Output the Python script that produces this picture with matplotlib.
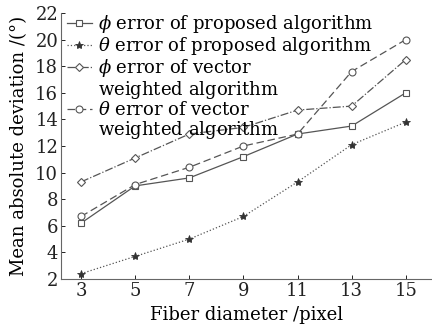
import matplotlib
matplotlib.use("Agg")
import matplotlib.pyplot as plt
from matplotlib.lines import Line2D

diameters = [3, 5, 7, 9, 11, 13, 15]
phi_proposed = [6.2, 9.0, 9.6, 11.2, 12.9, 13.5, 16.0]
theta_proposed = [2.4, 3.7, 5.0, 6.7, 9.3, 12.1, 13.8]
phi_vector = [9.3, 11.1, 12.9, 13.4, 14.7, 15.0, 18.5]
theta_vector = [6.7, 9.1, 10.4, 12.0, 12.9, 17.6, 20.0]

labels = [r"$\phi$ error of proposed algorithm",
          r"$\theta$ error of proposed algorithm",
          "$\\phi$ error of vector\nweighted algorithm",
          "$\\theta$ error of vector\nweighted algorithm"]
xticks = [3, 5, 7, 9, 11, 13, 15]
yticks = [2, 4, 6, 8, 10, 12, 14, 16, 18, 20, 22]

plt.rcParams['font.family'] = ['DejaVu Serif']
plt.rcParams['mathtext.fontset'] = 'dejavuserif'

fig = plt.figure(figsize=(4.32, 3.32), dpi=100)
ax = fig.add_axes([61/432, 1 - 279/332, 1 - 61/432 + 0.002, (279 - 13)/332])

lc = '#555555'
h1, = ax.plot(diameters, phi_proposed, '-', color=lc, lw=0.9, marker='s', ms=4.5,
              mfc='white', mec=lc, mew=0.8)
h2, = ax.plot(diameters, theta_proposed, ':', color=lc, lw=0.9, marker='*', ms=6,
              mfc='#333333', mec='#333333', mew=0.6)
h3, = ax.plot(diameters, phi_vector, '-.', color=lc, lw=0.9, marker='D', ms=4.5,
              mfc='white', mec=lc, mew=0.8)
h4, = ax.plot(diameters, theta_vector, '--', color=lc, lw=0.9, marker='o', ms=5,
              mfc='white', mec=lc, mew=0.8, dashes=(6, 3))

ax.set_xlim(2.26, 16.0)
ax.set_ylim(2, 22)
ax.set_xticks(xticks)
ax.set_yticks(yticks)
ax.tick_params(direction='in', length=3, width=0.7, labelsize=13, colors='#222222',
               pad=2)
for s in ['top', 'right']:
    ax.spines[s].set_visible(False)
for s in ['left', 'bottom']:
    ax.spines[s].set_color('#666666')
    ax.spines[s].set_linewidth(0.8)

ax.set_xlabel("Fiber diameter /pixel", fontsize=13, labelpad=4.5)
ax.set_ylabel("Mean absolute deviation /(°)", fontsize=13, labelpad=5)

# legend rows: multi-line labels are split so the handle sits on the first line
handles, texts = [], []
blank = Line2D([], [], linestyle='none', marker=None)
for h, lab in zip([h1, h2, h3, h4], labels):
    parts = lab.split("\n")
    handles.append(h)
    texts.append(parts[0])
    for p in parts[1:]:
        handles.append(blank)
        texts.append("${}$" + p)

leg = ax.legend(handles, texts, loc='upper left', bbox_to_anchor=(0.006, 1.012),
                frameon=False, fontsize=13.0, handlelength=1.4, handletextpad=0.3,
                labelspacing=0.0, borderpad=0.2, borderaxespad=0.0)

fig.savefig("out.png", dpi=100)
